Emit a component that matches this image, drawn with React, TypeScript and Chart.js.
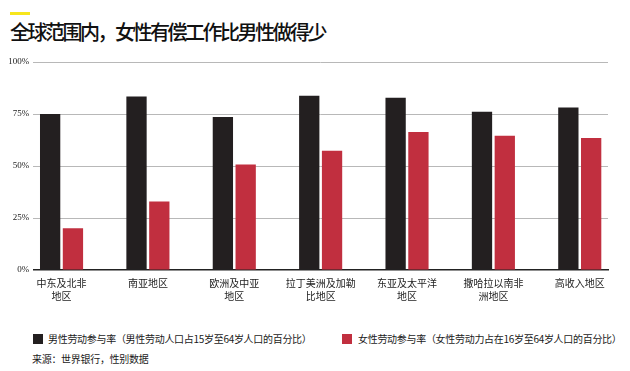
import React, { useEffect, useRef } from "react";
import { Chart, registerables } from "chart.js";

Chart.register(...registerables);

const titleText = "全球范围内，女性有偿工作比男性做得少";
const categories: string[][] = [
  ["中东及北非", "地区"],
  ["南亚地区"],
  ["欧洲及中亚", "地区"],
  ["拉丁美洲及加勒", "比地区"],
  ["东亚及太平洋", "地区"],
  ["撒哈拉以南非", "洲地区"],
  ["高收入地区"],
];
const maleRates = [75, 83.4, 73.5, 83.8, 82.8, 76.1, 78.1];
const femaleRates = [20.1, 32.9, 50.7, 57.3, 66.4, 64.5, 63.5];
const yTickValues = [0, 25, 50, 75, 100];
const maleLabel = "男性劳动参与率（男性劳动人口占15岁至64岁人口的百分比）";
const femaleLabel = "女性劳动参与率（女性劳动力占在16岁至64岁人口的百分比）";
const sourceText = "来源：世界银行，性别数据";

const MALE_COLOR = "#231f20";
const FEMALE_COLOR = "#c12f3f";
const CJK = "'Noto Sans CJK SC', sans-serif";

export default function App() {
  const canvasRef = useRef<HTMLCanvasElement | null>(null);

  useEffect(() => {
    if (!canvasRef.current) return;
    const chart = new Chart(canvasRef.current, {
      type: "bar",
      data: {
        datasets: [
          {
            label: maleLabel,
            data: maleRates.map((v, i) => ({ x: i, y: v })),
            backgroundColor: MALE_COLOR,
            borderWidth: 0,
          },
          {
            label: femaleLabel,
            data: femaleRates.map((v, i) => ({ x: i, y: v })),
            backgroundColor: FEMALE_COLOR,
            borderWidth: 0,
          },
        ],
      },
      options: {
        responsive: false,
        animation: false,
        categoryPercentage: 0.528,
        barPercentage: 0.89,
        layout: { padding: { top: 12, right: 22, left: 0, bottom: 0 } },
        plugins: {
          legend: { display: false },
          tooltip: { enabled: false },
        },
        scales: {
          x: {
            type: "linear",
            min: -0.327,
            max: 6.327,
            offset: false,
            grid: { display: false, drawTicks: false },
            border: { display: true, color: "#222", width: 1.5 },
            afterFit: (scale: any) => {
              scale.height = 40;
            },
            ticks: {
              stepSize: 1,
              includeBounds: false,
              autoSkip: false,
              maxRotation: 0,
              padding: 7,
              color: "#222",
              font: { family: CJK, size: 10, lineHeight: 1.25 },
              callback: (value: any) => {
                const i = Number(value);
                return Number.isInteger(i) && categories[i] ? categories[i] : "";
              },
            },
          },
          y: {
            min: 0,
            max: 100,
            afterFit: (scale: any) => {
              scale.width = 33.3;
            },
            afterBuildTicks: (scale: any) => {
              scale.ticks = yTickValues.map((v) => ({ value: v }));
            },
            border: { display: false },
            grid: {
              drawTicks: false,
              color: (ctx: any) => (ctx.tick && ctx.tick.value === 0 ? "rgba(0,0,0,0)" : "#b8b8b8"),
              lineWidth: 1,
            },
            ticks: {
              padding: 4,
              color: "#222",
              font: { family: "'Liberation Serif', serif", size: 9 },
              callback: (value: any) => value + "%",
            },
          },
        },
      },
    });
    return () => chart.destroy();
  }, []);

  const legendText: React.CSSProperties = {
    position: "absolute",
    fontFamily: CJK,
    fontSize: 10,
    lineHeight: "14px",
    letterSpacing: "-0.3px",
    color: "#1a1a1a",
    whiteSpace: "nowrap",
  };

  return (
    <div style={{ position: "absolute", left: 0, top: 0, width: 630, height: 371, background: "#fff", overflow: "hidden" }}>
      <div style={{ position: "absolute", left: 10, top: 12, width: 20, height: 3, background: "#f7e61c" }} />
      <div
        style={{
          position: "absolute",
          left: 10,
          top: 20,
          fontFamily: CJK,
          fontSize: 20,
          fontWeight: 500,
          lineHeight: "24px",
          letterSpacing: "-2.5px",
          color: "#111",
          whiteSpace: "nowrap",
        }}
      >
        {titleText}
      </div>
      <div style={{ position: "absolute", left: 0, top: 50, width: 630, height: 260 }}>
        <canvas ref={canvasRef} width={630} height={260} style={{ width: 630, height: 260, display: "block" }} />
      </div>
      <div style={{ position: "absolute", left: 33, top: 334, width: 10, height: 10, background: MALE_COLOR }} />
      <div style={{ ...legendText, left: 48, top: 332 }}>{maleLabel}</div>
      <div style={{ position: "absolute", left: 342, top: 334, width: 10, height: 10, background: FEMALE_COLOR }} />
      <div style={{ ...legendText, left: 358, top: 332 }}>{femaleLabel}</div>
      <div style={{ ...legendText, left: 32, top: 352 }}>{sourceText}</div>
    </div>
  );
}
